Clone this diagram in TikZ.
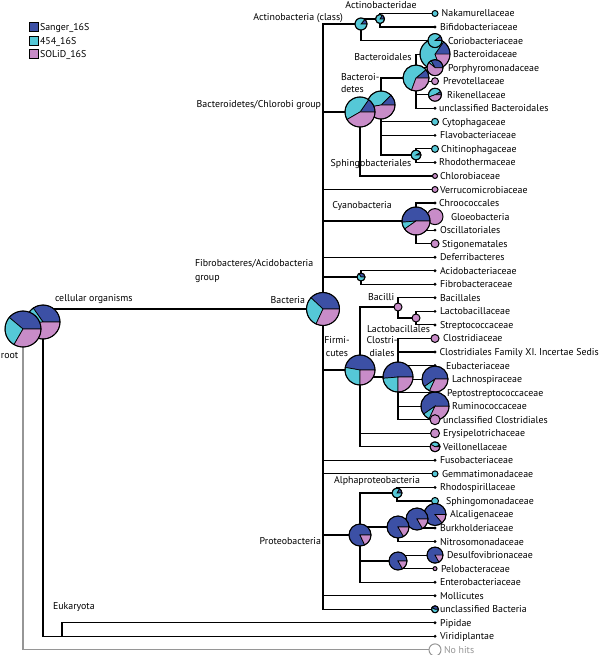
\documentclass[tikz,border=0pt]{standalone}
\usepackage{fontspec}
\setmainfont{PT Sans}
\definecolor{csanger}{RGB}{60,80,165}
\definecolor{cfour}{RGB}{85,200,215}
\definecolor{csolid}{RGB}{200,140,200}
\definecolor{cgray}{RGB}{150,150,150}
\newcommand\slc[4]{%
  \pgfmathtruncatemacro\slcok{((#3)-(#2))>0.01}%
  \ifnum\slcok=1
    \filldraw[fill=#1,draw=black,line width=0.7pt] (0,0) -- (#2:#4) arc[start angle=#2,end angle=#3,radius=#4] -- cycle;
  \fi}
\newcommand\mpie[4]{%
  \begin{scope}[shift={(#1)},yscale=-1]
    \slc{csanger}{0}{#3}{#2}
    \slc{cfour}{#3}{#4}{#2}
    \slc{csolid}{#4}{360}{#2}
    \draw[line width=1pt] (0,0) circle[radius=#2];
  \end{scope}}
\newcommand\spie[3]{\filldraw[fill=#3,draw=black,line width=1pt] (#1) circle[radius=#2];}
\begin{document}
\begin{tikzpicture}[x=1pt,y=-1pt,
  edge/.style={line width=1.15pt},
  lbl/.style={font=\fontsize{9.9pt}{11pt}\selectfont,inner sep=0pt,outer sep=0pt}]
\useasboundingbox (0,0) rectangle (600,655);
% leaves
\foreach \i in {0,...,47} \coordinate (L\i) at (435,13.5+13.54*\i);
% internal nodes
\coordinate (root) at (23,329);
\coordinate (cellorg) at (43,322);
\coordinate (bact) at (323,309);
\coordinate (euk) at (62,636.34);
\coordinate (actc) at (361,24);
\coordinate (actd) at (380,19);
\coordinate (bcg) at (360,112);
\coordinate (bdet) at (381,105);
\coordinate (bales) at (416,78);
\coordinate (sphb) at (416,155);
\coordinate (cyano) at (416,221);
\coordinate (fibro) at (361,277);
\coordinate (firm) at (360,370);
\coordinate (bacilli) at (398,307);
\coordinate (lacto) at (416,318);
\coordinate (clos) at (398,377);
\coordinate (prot) at (360,535);
\coordinate (alpha) at (397,493);
\coordinate (beta) at (398,527);
\coordinate (burk) at (417,519);
\coordinate (delta) at (398,561);
% edges
\draw[edge,cgray] (root) |- (L47);
\draw[edge] (root) -- (cellorg);
\draw[edge] (cellorg) |- (bact);
\draw[edge] (cellorg) |- (euk);
\foreach \c in {45,46} \draw[edge] (euk) |- (L\c);
\foreach \c in {actc,bcg,L13,cyano,L18,fibro,firm,L33,L34,prot,L43,L44} \draw[edge] (bact) |- (\c);
\foreach \c in {actd,L2} \draw[edge] (actc) |- (\c);
\foreach \c in {L0,L1} \draw[edge] (actd) |- (\c);
\foreach \c in {bdet,L12} \draw[edge] (bcg) |- (\c);
\foreach \c in {bales,L8,L9,sphb} \draw[edge] (bdet) |- (\c);
\foreach \c in {3,...,7} \draw[edge] (bales) |- (L\c);
\foreach \c in {L10,L11} \draw[edge] (sphb) |- (\c);
\foreach \c in {14,...,17} \draw[edge] (cyano) |- (L\c);
\foreach \c in {L19,L20} \draw[edge] (fibro) |- (\c);
\foreach \c in {bacilli,clos,L31,L32} \draw[edge] (firm) |- (\c);
\foreach \c in {L21,lacto} \draw[edge] (bacilli) |- (\c);
\foreach \c in {L22,L23} \draw[edge] (lacto) |- (\c);
\foreach \c in {24,...,30} \draw[edge] (clos) |- (L\c);
\foreach \c in {alpha,beta,delta,L42} \draw[edge] (prot) |- (\c);
\foreach \c in {L35,L36} \draw[edge] (alpha) |- (\c);
\foreach \c in {burk,L39} \draw[edge] (beta) |- (\c);
\foreach \c in {L37,L38} \draw[edge] (burk) |- (\c);
\foreach \c in {L40,L41} \draw[edge] (delta) |- (\c);
% leaf dots
\foreach \i in {1,7,9,11,14,16,18,19,20,21,22,23,25,26,28,33,35,38,39,42,43,45,46}
  \fill (L\i) circle[radius=1.6];
% leaf pies
\spie{L0}{3}{cfour}
\mpie{L3}{15}{55}{290}
\mpie{L2}{7}{40}{360}
\mpie{L4}{8}{120}{140}
\spie{L5}{3.5}{csolid}
\mpie{L6}{6.5}{30}{200}
\spie{L8}{3.5}{cfour}
\spie{L10}{3.5}{cfour}
\spie{L12}{2.5}{csolid}
\spie{L13}{3}{csolid}
\spie{L15}{8}{csolid}
\spie{L17}{4}{csolid}
\spie{L24}{4}{csolid}
\mpie{L27}{13}{215}{245}
\mpie{L29}{14}{215}{245}
\spie{L30}{5}{csolid}
\spie{L31}{4.5}{csolid}
\mpie{L32}{5}{20}{150}
\spie{L34}{3}{cfour}
\spie{L36}{3.5}{cfour}
\mpie{L37}{11}{310}{310}
\mpie{L40}{8}{300}{300}
\spie{L41}{2}{csolid}
\mpie{L44}{3.5}{150}{360}
\filldraw[fill=white,draw=cgray,line width=1pt] (L47) circle[radius=6];
% internal pies (children below parents)
\mpie{burk}{11}{300}{300}
\mpie{beta}{11}{300}{300}
\mpie{delta}{9}{300}{300}
\mpie{alpha}{5}{60}{360}
\mpie{prot}{11}{295}{295}
\spie{lacto}{4}{csolid}
\spie{bacilli}{4}{csolid}
\mpie{clos}{15}{185}{270}
\mpie{firm}{15}{170}{270}
\mpie{fibro}{4}{120}{360}
\mpie{cyano}{14}{185}{215}
\mpie{sphb}{5}{30}{360}
\mpie{bales}{13}{40}{250}
\mpie{bdet}{14}{45}{190}
\mpie{bcg}{15}{55}{210}
\mpie{actd}{4.5}{60}{360}
\mpie{actc}{6}{50}{360}
\mpie{bact}{16.5}{137}{245}
\mpie{cellorg}{17}{125}{185}
\mpie{root}{18}{140}{240}
% leaf labels
\foreach \i/\x/\t in {0/441.7/Nakamurellaceae,1/440/Bifidobacteriaceae,2/448/Coriobacteriaceae,
 3/453/Bacteroidaceae,4/448/Porphyromonadaceae,5/443/Prevotellaceae,6/447/Rikenellaceae,
 7/439/unclassified Bacteroidales,8/442/Cytophagaceae,9/440/Flavobacteriaceae,10/441/Chitinophagaceae,
 11/439/Rhodothermaceae,12/440/Chlorobiaceae,13/440/Verrucomicrobiaceae,14/439/Chroococcales,
 15/451/Gloeobacteria,16/440/Oscillatoriales,17/442/Stigonematales,18/440/Deferribacteres,
 19/440/Acidobacteriaceae,20/440/Fibrobacteraceae,21/440/Bacillales,22/440/Lactobacillaceae,
 23/440/Streptococcaceae,24/443/Clostridiaceae,25/439.5/Clostridiales Family XI. Incertae Sedis,
 26/446/Eubacteriaceae,27/452/Lachnospiraceae,28/447/Peptostreptococcaceae,29/452/Ruminococcaceae,
 30/443/unclassified Clostridiales,31/443/Erysipelotrichaceae,32/443/Veillonellaceae,
 33/440/Fusobacteriaceae,34/442/Gemmatimonadaceae,35/440/Rhodospirillaceae,36/446/Sphingomonadaceae,
 37/450/Alcaligenaceae,38/440/Burkholderiaceae,39/440/Nitrosomonadaceae,40/447/Desulfovibrionaceae,
 41/441/Pelobacteraceae,42/440/Enterobacteriaceae,43/440/Mollicutes,44/440/unclassified Bacteria,
 45/440/Pipidae,46/440/Viridiplantae}
  \node[lbl,anchor=base west] (T\i) at (\x,17+13.54*\i) {\t};
\node[lbl,anchor=base west,text=cgray] (T47) at (444,17+13.54*47) {No hits};
% internal labels
\node[lbl,anchor=base west] (troot) at (1,358) {root};
\node[lbl,anchor=base west] (tcell) at (55,301) {cellular organisms};
\node[lbl,anchor=base east] (tbact) at (305,303.5) {Bacteria};
\node[lbl,anchor=base west] (teuk) at (53,609) {Eukaryota};
\node[lbl,anchor=base east] (tactc) at (343,20.5) {Actinobacteria (class)};
\node[lbl,anchor=base] (tactd) at (381,8.5) {Actinobacteridae};
\node[lbl,anchor=base] (tbales) at (383,60.5) {Bacteroidales};
\node[lbl,anchor=base west] (tbdet1) at (341,80.5) {Bacteroi-};
\node[lbl,anchor=base west] (tbdet2) at (341,92.5) {detes};
\node[lbl,anchor=base east] (tbcg) at (321,107.5) {Bacteroidetes/Chlorobi group};
\node[lbl,anchor=base] (tsphb) at (371,166.5) {Sphingobacteriales};
\node[lbl,anchor=base] (tcyano) at (362,208.5) {Cyanobacteria};
\node[lbl,anchor=base west] (tfibro1) at (195,266.5) {Fibrobacteres/Acidobacteria};
\node[lbl,anchor=base west] (tfibro2) at (195,280) {group};
\node[lbl,anchor=base west] (tbacilli) at (368,300.5) {Bacilli};
\node[lbl,anchor=base west] (tlacto) at (367,332.5) {Lactobacillales};
\node[lbl,anchor=base] (tfirm1) at (337,343.5) {Firmi-};
\node[lbl,anchor=base] (tfirm2) at (337,356.5) {cutes};
\node[lbl,anchor=base] (tclos1) at (382,343.5) {Clostri-};
\node[lbl,anchor=base] (tclos2) at (382,356.5) {diales};
\node[lbl,anchor=base] (talpha) at (377,483.5) {Alphaproteobacteria};
\node[lbl,anchor=base east] (tprot) at (321,544.5) {Proteobacteria};
% legend
\foreach \i/\c/\t in {0/csanger/Sanger\_16S,1/cfour/454\_16S,2/csolid/SOLiD\_16S} {
  \node[draw,fill=\c,minimum size=9pt,inner sep=0pt,line width=1pt] (lg\i) at (33.5,27.5+13.5*\i) {};
  \node[lbl,anchor=base west] (lt\i) at (40,31+13.5*\i) {\t};
}
\end{tikzpicture}
\end{document}
